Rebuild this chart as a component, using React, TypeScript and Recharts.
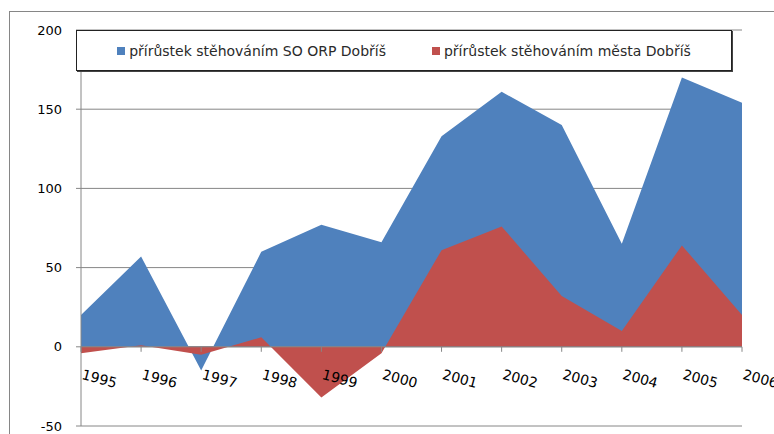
import { Area, AreaChart, CartesianGrid, Legend, ReferenceLine, XAxis, YAxis } from "recharts";

const years = ["1995", "1996", "1997", "1998", "1999", "2000", "2001", "2002", "2003", "2004", "2005", "2006"];
const orpValues = [20, 57, -15, 60, 77, 66, 133, 161, 140, 65, 170, 154];
const townValues = [-4, 1, -5, 6, -32, -4, 61, 76, 32, 10, 64, 20];
const yTicks = [-50, 0, 50, 100, 150, 200];

const ORP_NAME = "přírůstek stěhováním SO ORP Dobříš";
const TOWN_NAME = "přírůstek stěhováním města Dobříš";
const BLUE = "#4f81bd";
const RED = "#c0504d";
const GRID = "#868686";
const FONT = "'DejaVu Sans', sans-serif";

const W = 774;
const H = 434;
const margin = { top: 30, right: 32, bottom: 0, left: 0 };
const X_AXIS_H = 8;
const Y_MIN = -50;
const Y_MAX = 200;

const plotTop = margin.top;
const plotBottom = H - margin.bottom - X_AXIS_H;
// pixel row of the value 0, where the category axis crosses
const zeroY = plotTop + ((Y_MAX - 0) / (Y_MAX - Y_MIN)) * (plotBottom - plotTop);

const data = years.map((year, i) => ({ year, orp: orpValues[i], town: townValues[i] }));

function YearTick({ x, payload }: any) {
  return (
    <g>
      <line x1={x} y1={zeroY} x2={x} y2={zeroY + 5} stroke={GRID} />
      <text
        x={x}
        y={zeroY + 32}
        transform={`rotate(15, ${x}, ${zeroY + 32})`}
        textAnchor="start"
        fontSize={14}
        fontFamily={FONT}
        fill="#000"
      >
        {payload.value}
      </text>
    </g>
  );
}

function LegendBox() {
  const items = [
    { name: ORP_NAME, color: BLUE },
    { name: TOWN_NAME, color: RED },
  ];
  return (
    <div
      style={{
        width: 654,
        height: 39,
        border: "1px solid #222",
        boxShadow: "1px 1px 0 #444",
        background: "#fff",
        display: "flex",
        alignItems: "center",
        justifyContent: "center",
        gap: 46,
        fontFamily: FONT,
        fontSize: 14,
        color: "#2a2a2a",
      }}
    >
      {items.map((it) => (
        <span key={it.name} style={{ display: "flex", alignItems: "center" }}>
          <span style={{ width: 8, height: 8, background: it.color, marginRight: 4 }} />
          {it.name}
        </span>
      ))}
    </div>
  );
}

export default function App() {
  return (
    <div style={{ position: "absolute", left: 0, top: 0, width: W, height: H, background: "#fff", overflow: "hidden" }}>
      <div
        style={{
          position: "absolute",
          left: 9,
          top: 11,
          width: W,
          height: H,
          borderLeft: `1px solid ${GRID}`,
          borderTop: `1px solid ${GRID}`,
        }}
      />
      <AreaChart width={W} height={H} data={data} margin={margin}>
        <CartesianGrid vertical={false} stroke={GRID} />
        <XAxis
          dataKey="year"
          height={X_AXIS_H}
          axisLine={false}
          tickLine={false}
          tick={<YearTick />}
          interval={0}
        />
        <YAxis
          width={81}
          domain={[Y_MIN, Y_MAX]}
          ticks={yTicks}
          axisLine={{ stroke: GRID }}
          tickLine={{ stroke: GRID }}
          tickSize={5}
          tickMargin={14}
          tick={{ fill: "#000", fontSize: 13, fontFamily: FONT }}
        />
        <Area
          type="linear"
          dataKey="orp"
          name={ORP_NAME}
          stroke="none"
          fill={BLUE}
          fillOpacity={1}
          baseValue={0}
          isAnimationActive={false}
        />
        <Area
          type="linear"
          dataKey="town"
          name={TOWN_NAME}
          stroke="none"
          fill={RED}
          fillOpacity={1}
          baseValue={0}
          isAnimationActive={false}
        />
        <ReferenceLine y={0} stroke={GRID} />
        <Legend
          layout="horizontal"
          verticalAlign="middle"
          align="center"
          content={<LegendBox />}
          wrapperStyle={{ position: "absolute", left: 76, top: 30, width: 656, height: 41 }}
        />
      </AreaChart>
    </div>
  );
}
